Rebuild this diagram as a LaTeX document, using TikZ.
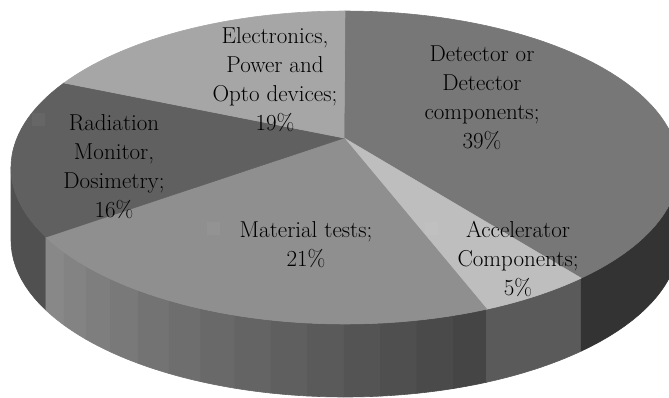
\documentclass[tikz,border=0pt]{standalone}
\usepackage{tikz}
\usetikzlibrary{positioning}
\definecolor{detgray}{HTML}{777777}
\definecolor{accgray}{HTML}{BEBEBE}
\definecolor{matgray}{HTML}{8F8F8F}
\definecolor{radgray}{HTML}{606060}
\definecolor{elegray}{HTML}{A6A6A6}
\definecolor{radside}{HTML}{505050}
\definecolor{accside}{HTML}{5A5A5A}
\definecolor{detside}{HTML}{333333}
\definecolor{matsideL}{HTML}{888888}
\definecolor{matsideR}{HTML}{454545}
% pie geometry, in pixels (y runs downwards)
\newcommand{\pieX}{345}
\newcommand{\pieY}{167.5}
\newcommand{\pieRx}{334}
\newcommand{\pieRy}{156.5}
\newcommand{\pieH}{73}

\begin{document}
\begin{tikzpicture}[
    x=1pt, y=-1pt,
    slice/.style={line width=0.6pt, line join=round},
    slicelabel/.style={font=\fontsize{23}{29}\selectfont, align=center, text=black, inner sep=0pt},
    keybox/.style={minimum size=13pt, inner sep=0pt, fill=white, fill opacity=0.04}
]
\useasboundingbox (0,0) rectangle (669,398);
\clip (0,0) rectangle (669,398);

% Side wall
\filldraw[slice, fill=radside, draw=radside]
    plot[domain=180:206.4, samples=12] ({\pieX+\pieRx*cos(\x)},{\pieY-\pieRy*sin(\x)})
    -- plot[domain=206.4:180, samples=12] ({\pieX+\pieRx*cos(\x)},{\pieY+\pieH-\pieRy*sin(\x)}) -- cycle;
\foreach \i in {0,...,13} {
    \pgfmathsetmacro{\ta}{206.4+\i*88.7/14}
    \pgfmathsetmacro{\tb}{\ta+88.7/14}
    \pgfmathsetmacro{\shade}{100-\i*100/13}
    \filldraw[slice, fill=matsideL!\shade!matsideR, draw=matsideL!\shade!matsideR]
        plot[domain=\ta:\tb, samples=6] ({\pieX+\pieRx*cos(\x)},{\pieY-\pieRy*sin(\x)})
        -- plot[domain=\tb:\ta, samples=6] ({\pieX+\pieRx*cos(\x)},{\pieY+\pieH-\pieRy*sin(\x)}) -- cycle;
}
\filldraw[slice, fill=accside, draw=accside]
    plot[domain=295.1:315, samples=12] ({\pieX+\pieRx*cos(\x)},{\pieY-\pieRy*sin(\x)})
    -- plot[domain=315:295.1, samples=12] ({\pieX+\pieRx*cos(\x)},{\pieY+\pieH-\pieRy*sin(\x)}) -- cycle;
\filldraw[slice, fill=detside, draw=detside]
    plot[domain=315:360, samples=20] ({\pieX+\pieRx*cos(\x)},{\pieY-\pieRy*sin(\x)})
    -- plot[domain=360:315, samples=20] ({\pieX+\pieRx*cos(\x)},{\pieY+\pieH-\pieRy*sin(\x)}) -- cycle;

% Top face
\coordinate (apex) at (344,138);
\filldraw[slice, fill=detgray, draw=detgray] (apex)
    -- plot[domain=90:-45, samples=60] ({\pieX+\pieRx*cos(\x)},{\pieY-\pieRy*sin(\x)}) -- cycle;
\filldraw[slice, fill=accgray, draw=accgray] (apex)
    -- plot[domain=-45:-64.9, samples=12] ({\pieX+\pieRx*cos(\x)},{\pieY-\pieRy*sin(\x)}) -- cycle;
\filldraw[slice, fill=matgray, draw=matgray] (apex)
    -- plot[domain=-64.9:-153.6, samples=40] ({\pieX+\pieRx*cos(\x)},{\pieY-\pieRy*sin(\x)}) -- cycle;
\filldraw[slice, fill=radgray, draw=radgray] (apex)
    -- plot[domain=-153.6:-212.7, samples=30] ({\pieX+\pieRx*cos(\x)},{\pieY-\pieRy*sin(\x)}) -- cycle;
\filldraw[slice, fill=elegray, draw=elegray] (apex)
    -- plot[domain=147.3:90, samples=30] ({\pieX+\pieRx*cos(\x)},{\pieY-\pieRy*sin(\x)}) -- cycle;

% Legend keys
\node[keybox] (radkey) at (38,120) {};
\node[keybox] (matkey) at (213.5,228) {};
\node[keybox] (acckey) at (431.5,228) {};

% Labels
\node[slicelabel] (ele) at (275,80) {Electronics,\\Power and\\Opto devices;\\19\%};
\node[slicelabel] (det) at (482,97.5) {Detector or\\Detector\\components;\\39\%};
\node[slicelabel] (rad) at (114,166.5) {Radiation\\Monitor,\\Dosimetry;\\16\%};
\node[slicelabel] (mat) at (306,245) {Material tests;\\21\%};
\node[slicelabel] (acc) at (518,259) {Accelerator\\Components;\\5\%};

\end{tikzpicture}
\end{document}
